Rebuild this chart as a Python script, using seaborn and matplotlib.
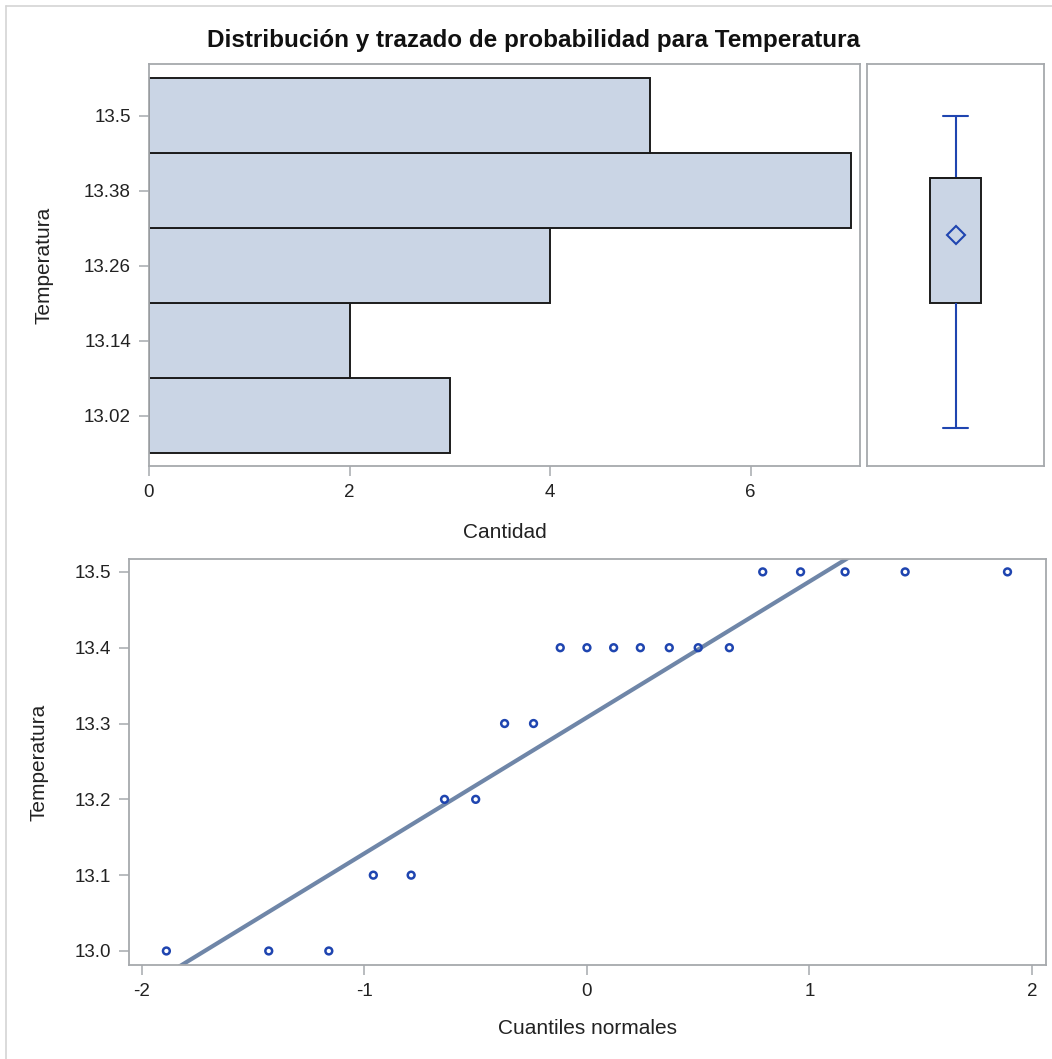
import numpy as np
import pandas as pd
import matplotlib
matplotlib.use("Agg")
import matplotlib.pyplot as plt
from matplotlib.lines import Line2D
import seaborn as sns

# ---- data ----
temperatura = [13.0, 13.0, 13.0, 13.1, 13.1, 13.2, 13.2, 13.3, 13.3,
               13.4, 13.4, 13.4, 13.4, 13.4, 13.4, 13.4,
               13.5, 13.5, 13.5, 13.5, 13.5]
cuantiles = [-1.89, -1.43, -1.16, -0.96, -0.79, -0.64, -0.50, -0.37, -0.24,
             -0.12, 0.0, 0.12, 0.24, 0.37, 0.50, 0.64,
             0.79, 0.96, 1.16, 1.43, 1.89]
bin_edges = [12.96, 13.08, 13.20, 13.32, 13.44, 13.56]
hist_yticks = [13.02, 13.14, 13.26, 13.38, 13.5]
hist_ytick_labels = ["13.02", "13.14", "13.26", "13.38", "13.5"]
count_ticks = [0, 2, 4, 6]
qq_xticks = [-2, -1, 0, 1, 2]
qq_yticks = [13.0, 13.1, 13.2, 13.3, 13.4, 13.5]
qq_ytick_labels = ["13.0", "13.1", "13.2", "13.3", "13.4", "13.5"]
fit_mu = 13.308
fit_sigma = 0.1793
fit_x = [-2.1, 2.1]

titulo = "Distribución y trazado de probabilidad para Temperatura"

# ---- style ----
sns.set_style("white")
plt.rcParams['font.family'] = ['Liberation Sans', 'DejaVu Sans']
plt.rcParams['axes.unicode_minus'] = False
FILL = "#CAD5E5"
EDGE = "#1c1c1c"
BLUE = "#1f45b0"
FIT = "#6f86a8"
SPINE = "#a6a9ad"
TXT = "#222222"

W, H = 1052, 1059
fig = plt.figure(figsize=(W / 100, H / 100), dpi=100)

def frac(x0, y0, x1, y1):
    return [x0 / W, 1 - y1 / H, (x1 - x0) / W, (y1 - y0) / H]

ax_h = fig.add_axes(frac(149, 64, 860, 466))
ax_b = fig.add_axes(frac(867, 64, 1044, 466), sharey=ax_h)
ax_q = fig.add_axes(frac(129, 559, 1046, 965))

df = pd.DataFrame({"Temperatura": temperatura, "Cuantil": cuantiles})

# histogram (horizontal)
sns.histplot(data=df, y="Temperatura", bins=bin_edges, ax=ax_h,
             color=FILL, edgecolor=EDGE, linewidth=1.4, alpha=1)
ax_h.set_xlim(0, 7.09)
ax_h.set_ylim(12.94, 13.583)
ax_h.set_yticks(hist_yticks)
ax_h.set_yticklabels(hist_ytick_labels)
ax_h.set_xticks(count_ticks)
ax_h.set_xlabel("Cantidad", fontsize=15, color=TXT, labelpad=16)
ax_h.set_ylabel("Temperatura", fontsize=15, color=TXT, labelpad=22)

# box plot
sns.boxplot(data=df, y="Temperatura", ax=ax_b, width=0.29, showfliers=False,
            showmeans=True, whis=1.5,
            boxprops=dict(facecolor=FILL, edgecolor=EDGE, linewidth=1.4),
            whiskerprops=dict(color=BLUE, linewidth=1.5),
            capprops=dict(color=BLUE, linewidth=1.5),
            medianprops=dict(color=EDGE, linewidth=1.4),
            meanprops=dict(marker="D", markerfacecolor="none",
                           markeredgecolor=BLUE, markersize=9,
                           markeredgewidth=1.5))
ax_b.set_xlim(-0.5, 0.5)
ax_b.set_ylim(12.94, 13.583)
ax_b.set_xticks([])
ax_b.set_xlabel("")
ax_b.set_ylabel("")

# QQ plot
sns.scatterplot(data=df, x="Cuantil", y="Temperatura", ax=ax_q,
                marker="o", s=24, color=BLUE, linewidth=1.8, zorder=3)
for coll in ax_q.collections:
    coll.set_facecolor("none")
    coll.set_edgecolor(BLUE)
fx = np.array(fit_x)
sns.lineplot(x=fx, y=fit_mu + fit_sigma * fx, ax=ax_q, color=FIT,
             linewidth=3, zorder=2)
ax_q.set_xlim(-2.058, 2.063)
ax_q.set_ylim(12.9815, 13.517)
ax_q.set_xticks(qq_xticks)
ax_q.set_yticks(qq_yticks)
ax_q.set_yticklabels(qq_ytick_labels)
ax_q.set_xlabel("Cuantiles normales", fontsize=15, color=TXT, labelpad=13.5)
ax_q.set_ylabel("Temperatura", fontsize=15, color=TXT, labelpad=19)

for ax in (ax_h, ax_b, ax_q):
    for s in ax.spines.values():
        s.set_color(SPINE)
        s.set_linewidth(1.3)
    ax.tick_params(axis="both", direction="out", length=7, width=1.1,
                   color=SPINE, labelsize=13.5, labelcolor=TXT, pad=6,
                   bottom=True, left=True, top=False, right=False)
    ax.grid(False)
ax_b.tick_params(left=False, bottom=False, labelleft=False, labelbottom=False)

fig.text(0.5076, 1 - 40 / H, titulo, ha="center", va="center",
         fontsize=17.5, fontweight="bold", color="#111111")

# outer light frame
fig.add_artist(Line2D([6 / W, 1.0], [1 - 6 / H, 1 - 6 / H],
                      transform=fig.transFigure, color="#d4d4d4", lw=1.2))
fig.add_artist(Line2D([6 / W, 6 / W], [1 - 6 / H, 0.0],
                      transform=fig.transFigure, color="#d4d4d4", lw=1.2))

fig.savefig("out.png", dpi=100, facecolor="white")
